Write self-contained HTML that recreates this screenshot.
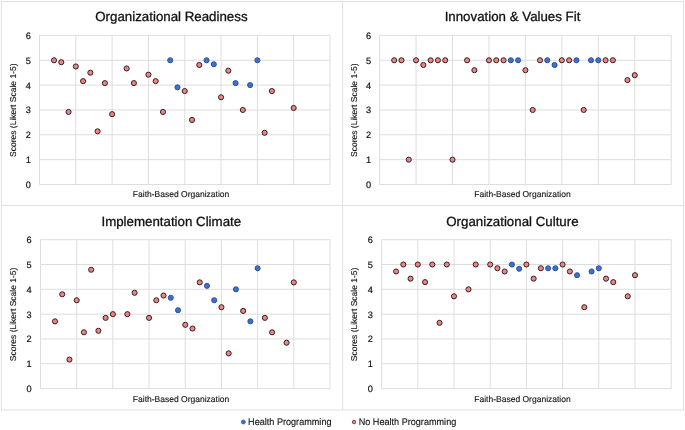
<!DOCTYPE html>
<html><head><meta charset="utf-8"><style>
html,body{margin:0;padding:0;background:#fff;}
svg{display:block;font-family:"Liberation Sans", sans-serif;will-change:transform;text-rendering:geometricPrecision;}
</style></head><body>
<svg width="685" height="430" viewBox="0 0 685 430">
<rect width="685" height="430" fill="#fff"/>
<g stroke="#e0e0e0" stroke-width="1" fill="none">
<rect x="1.5" y="1.5" width="682" height="408.5"/>
<line x1="342.5" y1="1.5" x2="342.5" y2="410"/>
<line x1="1.5" y1="205.5" x2="683.5" y2="205.5"/>
</g>
<g stroke="#d9d9d9" stroke-width="0.9"><line x1="39.50" y1="184.50" x2="330.00" y2="184.50"/><line x1="39.50" y1="159.65" x2="330.00" y2="159.65"/><line x1="39.50" y1="134.80" x2="330.00" y2="134.80"/><line x1="39.50" y1="109.95" x2="330.00" y2="109.95"/><line x1="39.50" y1="85.10" x2="330.00" y2="85.10"/><line x1="39.50" y1="60.25" x2="330.00" y2="60.25"/><line x1="39.50" y1="35.40" x2="330.00" y2="35.40"/><line x1="39.50" y1="35.40" x2="39.50" y2="184.50"/><line x1="75.81" y1="35.40" x2="75.81" y2="184.50"/><line x1="112.12" y1="35.40" x2="112.12" y2="184.50"/><line x1="148.44" y1="35.40" x2="148.44" y2="184.50"/><line x1="184.75" y1="35.40" x2="184.75" y2="184.50"/><line x1="221.06" y1="35.40" x2="221.06" y2="184.50"/><line x1="257.38" y1="35.40" x2="257.38" y2="184.50"/><line x1="293.69" y1="35.40" x2="293.69" y2="184.50"/><line x1="330.00" y1="35.40" x2="330.00" y2="184.50"/></g><g font-size="9.2" fill="#111111" stroke="#111111" stroke-width="0.2"><text transform="translate(30.90,187.95) scale(1,1.0)" text-anchor="end">0</text><text transform="translate(30.90,163.10) scale(1,1.0)" text-anchor="end">1</text><text transform="translate(30.90,138.25) scale(1,1.0)" text-anchor="end">2</text><text transform="translate(30.90,113.40) scale(1,1.0)" text-anchor="end">3</text><text transform="translate(30.90,88.55) scale(1,1.0)" text-anchor="end">4</text><text transform="translate(30.90,63.70) scale(1,1.0)" text-anchor="end">5</text><text transform="translate(30.90,38.85) scale(1,1.0)" text-anchor="end">6</text></g><circle cx="54.02" cy="60.25" r="2.55" fill="#f28284" stroke="#2c2424" stroke-width="1.0"/><circle cx="61.29" cy="62.24" r="2.55" fill="#f28284" stroke="#2c2424" stroke-width="1.0"/><circle cx="68.55" cy="111.94" r="2.55" fill="#f28284" stroke="#2c2424" stroke-width="1.0"/><circle cx="75.81" cy="66.46" r="2.55" fill="#f28284" stroke="#2c2424" stroke-width="1.0"/><circle cx="83.08" cy="81.12" r="2.55" fill="#f28284" stroke="#2c2424" stroke-width="1.0"/><circle cx="90.34" cy="72.68" r="2.55" fill="#f28284" stroke="#2c2424" stroke-width="1.0"/><circle cx="97.60" cy="131.32" r="2.55" fill="#f28284" stroke="#2c2424" stroke-width="1.0"/><circle cx="104.86" cy="83.11" r="2.55" fill="#f28284" stroke="#2c2424" stroke-width="1.0"/><circle cx="112.12" cy="114.17" r="2.55" fill="#f28284" stroke="#2c2424" stroke-width="1.0"/><circle cx="126.65" cy="68.45" r="2.55" fill="#f28284" stroke="#2c2424" stroke-width="1.0"/><circle cx="133.91" cy="83.11" r="2.55" fill="#f28284" stroke="#2c2424" stroke-width="1.0"/><circle cx="148.44" cy="74.66" r="2.55" fill="#f28284" stroke="#2c2424" stroke-width="1.0"/><circle cx="155.70" cy="81.12" r="2.55" fill="#f28284" stroke="#2c2424" stroke-width="1.0"/><circle cx="162.96" cy="111.94" r="2.55" fill="#f28284" stroke="#2c2424" stroke-width="1.0"/><circle cx="170.22" cy="60.25" r="2.55" fill="#3f70cf" stroke="#27488c" stroke-width="0.9"/><circle cx="177.49" cy="87.34" r="2.55" fill="#3f70cf" stroke="#27488c" stroke-width="0.9"/><circle cx="184.75" cy="91.06" r="2.55" fill="#f28284" stroke="#2c2424" stroke-width="1.0"/><circle cx="192.01" cy="119.89" r="2.55" fill="#f28284" stroke="#2c2424" stroke-width="1.0"/><circle cx="199.28" cy="64.97" r="2.55" fill="#f28284" stroke="#2c2424" stroke-width="1.0"/><circle cx="206.54" cy="60.25" r="2.55" fill="#3f70cf" stroke="#27488c" stroke-width="0.9"/><circle cx="213.80" cy="64.23" r="2.55" fill="#3f70cf" stroke="#27488c" stroke-width="0.9"/><circle cx="221.06" cy="97.28" r="2.55" fill="#f28284" stroke="#2c2424" stroke-width="1.0"/><circle cx="228.33" cy="70.69" r="2.55" fill="#f28284" stroke="#2c2424" stroke-width="1.0"/><circle cx="235.59" cy="83.11" r="2.55" fill="#3f70cf" stroke="#27488c" stroke-width="0.9"/><circle cx="242.85" cy="109.95" r="2.55" fill="#f28284" stroke="#2c2424" stroke-width="1.0"/><circle cx="250.11" cy="85.10" r="2.55" fill="#3f70cf" stroke="#27488c" stroke-width="0.9"/><circle cx="257.38" cy="60.25" r="2.55" fill="#3f70cf" stroke="#27488c" stroke-width="0.9"/><circle cx="264.64" cy="132.81" r="2.55" fill="#f28284" stroke="#2c2424" stroke-width="1.0"/><circle cx="271.90" cy="91.06" r="2.55" fill="#f28284" stroke="#2c2424" stroke-width="1.0"/><circle cx="293.69" cy="107.96" r="2.55" fill="#f28284" stroke="#2c2424" stroke-width="1.0"/><text transform="translate(171.40,21.40) scale(1,1.0)" text-anchor="middle" font-size="13.3" fill="#111111" stroke="#111111" stroke-width="0.3">Organizational Readiness</text><text transform="translate(16.00,110.20) rotate(-90) scale(1,1.0)" text-anchor="middle" font-size="8.5" fill="#111111" stroke="#111111" stroke-width="0.12">Scores (Likert Scale 1-5)</text><text transform="translate(181.05,197.30) scale(1,1.0)" text-anchor="middle" font-size="8.5" fill="#111111" stroke="#111111" stroke-width="0.12">Faith-Based Organization</text><g stroke="#d9d9d9" stroke-width="0.9"><line x1="379.60" y1="184.50" x2="671.20" y2="184.50"/><line x1="379.60" y1="159.65" x2="671.20" y2="159.65"/><line x1="379.60" y1="134.80" x2="671.20" y2="134.80"/><line x1="379.60" y1="109.95" x2="671.20" y2="109.95"/><line x1="379.60" y1="85.10" x2="671.20" y2="85.10"/><line x1="379.60" y1="60.25" x2="671.20" y2="60.25"/><line x1="379.60" y1="35.40" x2="671.20" y2="35.40"/><line x1="379.60" y1="35.40" x2="379.60" y2="184.50"/><line x1="416.05" y1="35.40" x2="416.05" y2="184.50"/><line x1="452.50" y1="35.40" x2="452.50" y2="184.50"/><line x1="488.95" y1="35.40" x2="488.95" y2="184.50"/><line x1="525.40" y1="35.40" x2="525.40" y2="184.50"/><line x1="561.85" y1="35.40" x2="561.85" y2="184.50"/><line x1="598.30" y1="35.40" x2="598.30" y2="184.50"/><line x1="634.75" y1="35.40" x2="634.75" y2="184.50"/><line x1="671.20" y1="35.40" x2="671.20" y2="184.50"/></g><g font-size="9.2" fill="#111111" stroke="#111111" stroke-width="0.2"><text transform="translate(371.20,187.95) scale(1,1.0)" text-anchor="end">0</text><text transform="translate(371.20,163.10) scale(1,1.0)" text-anchor="end">1</text><text transform="translate(371.20,138.25) scale(1,1.0)" text-anchor="end">2</text><text transform="translate(371.20,113.40) scale(1,1.0)" text-anchor="end">3</text><text transform="translate(371.20,88.55) scale(1,1.0)" text-anchor="end">4</text><text transform="translate(371.20,63.70) scale(1,1.0)" text-anchor="end">5</text><text transform="translate(371.20,38.85) scale(1,1.0)" text-anchor="end">6</text></g><circle cx="394.18" cy="60.25" r="2.55" fill="#f28284" stroke="#2c2424" stroke-width="1.0"/><circle cx="401.47" cy="60.25" r="2.55" fill="#f28284" stroke="#2c2424" stroke-width="1.0"/><circle cx="408.76" cy="159.65" r="2.55" fill="#f28284" stroke="#2c2424" stroke-width="1.0"/><circle cx="416.05" cy="60.25" r="2.55" fill="#f28284" stroke="#2c2424" stroke-width="1.0"/><circle cx="423.34" cy="64.97" r="2.55" fill="#f28284" stroke="#2c2424" stroke-width="1.0"/><circle cx="430.63" cy="60.25" r="2.55" fill="#f28284" stroke="#2c2424" stroke-width="1.0"/><circle cx="437.92" cy="60.25" r="2.55" fill="#f28284" stroke="#2c2424" stroke-width="1.0"/><circle cx="445.21" cy="60.25" r="2.55" fill="#f28284" stroke="#2c2424" stroke-width="1.0"/><circle cx="452.50" cy="159.65" r="2.55" fill="#f28284" stroke="#2c2424" stroke-width="1.0"/><circle cx="467.08" cy="60.25" r="2.55" fill="#f28284" stroke="#2c2424" stroke-width="1.0"/><circle cx="474.37" cy="70.19" r="2.55" fill="#f28284" stroke="#2c2424" stroke-width="1.0"/><circle cx="488.95" cy="60.25" r="2.55" fill="#f28284" stroke="#2c2424" stroke-width="1.0"/><circle cx="496.24" cy="60.25" r="2.55" fill="#f28284" stroke="#2c2424" stroke-width="1.0"/><circle cx="503.53" cy="60.25" r="2.55" fill="#f28284" stroke="#2c2424" stroke-width="1.0"/><circle cx="510.82" cy="60.25" r="2.55" fill="#3f70cf" stroke="#27488c" stroke-width="0.9"/><circle cx="518.11" cy="60.25" r="2.55" fill="#3f70cf" stroke="#27488c" stroke-width="0.9"/><circle cx="525.40" cy="70.19" r="2.55" fill="#f28284" stroke="#2c2424" stroke-width="1.0"/><circle cx="532.69" cy="109.95" r="2.55" fill="#f28284" stroke="#2c2424" stroke-width="1.0"/><circle cx="539.98" cy="60.25" r="2.55" fill="#f28284" stroke="#2c2424" stroke-width="1.0"/><circle cx="547.27" cy="60.25" r="2.55" fill="#3f70cf" stroke="#27488c" stroke-width="0.9"/><circle cx="554.56" cy="64.97" r="2.55" fill="#3f70cf" stroke="#27488c" stroke-width="0.9"/><circle cx="561.85" cy="60.25" r="2.55" fill="#f28284" stroke="#2c2424" stroke-width="1.0"/><circle cx="569.14" cy="60.25" r="2.55" fill="#f28284" stroke="#2c2424" stroke-width="1.0"/><circle cx="576.43" cy="60.25" r="2.55" fill="#3f70cf" stroke="#27488c" stroke-width="0.9"/><circle cx="583.72" cy="109.95" r="2.55" fill="#f28284" stroke="#2c2424" stroke-width="1.0"/><circle cx="591.01" cy="60.25" r="2.55" fill="#3f70cf" stroke="#27488c" stroke-width="0.9"/><circle cx="598.30" cy="60.25" r="2.55" fill="#3f70cf" stroke="#27488c" stroke-width="0.9"/><circle cx="605.59" cy="60.25" r="2.55" fill="#f28284" stroke="#2c2424" stroke-width="1.0"/><circle cx="612.88" cy="60.25" r="2.55" fill="#f28284" stroke="#2c2424" stroke-width="1.0"/><circle cx="627.46" cy="80.13" r="2.55" fill="#f28284" stroke="#2c2424" stroke-width="1.0"/><circle cx="634.75" cy="75.16" r="2.55" fill="#f28284" stroke="#2c2424" stroke-width="1.0"/><text transform="translate(512.50,21.40) scale(1,1.0)" text-anchor="middle" font-size="13.3" fill="#111111" stroke="#111111" stroke-width="0.3">Innovation &amp; Values Fit</text><text transform="translate(357.20,110.20) rotate(-90) scale(1,1.0)" text-anchor="middle" font-size="8.5" fill="#111111" stroke="#111111" stroke-width="0.12">Scores (Likert Scale 1-5)</text><text transform="translate(522.50,197.30) scale(1,1.0)" text-anchor="middle" font-size="8.5" fill="#111111" stroke="#111111" stroke-width="0.12">Faith-Based Organization</text><g stroke="#d9d9d9" stroke-width="0.9"><line x1="40.50" y1="388.60" x2="330.00" y2="388.60"/><line x1="40.50" y1="363.78" x2="330.00" y2="363.78"/><line x1="40.50" y1="338.97" x2="330.00" y2="338.97"/><line x1="40.50" y1="314.15" x2="330.00" y2="314.15"/><line x1="40.50" y1="289.33" x2="330.00" y2="289.33"/><line x1="40.50" y1="264.52" x2="330.00" y2="264.52"/><line x1="40.50" y1="239.70" x2="330.00" y2="239.70"/><line x1="40.50" y1="239.70" x2="40.50" y2="388.60"/><line x1="76.69" y1="239.70" x2="76.69" y2="388.60"/><line x1="112.88" y1="239.70" x2="112.88" y2="388.60"/><line x1="149.06" y1="239.70" x2="149.06" y2="388.60"/><line x1="185.25" y1="239.70" x2="185.25" y2="388.60"/><line x1="221.44" y1="239.70" x2="221.44" y2="388.60"/><line x1="257.62" y1="239.70" x2="257.62" y2="388.60"/><line x1="293.81" y1="239.70" x2="293.81" y2="388.60"/><line x1="330.00" y1="239.70" x2="330.00" y2="388.60"/></g><g font-size="9.2" fill="#111111" stroke="#111111" stroke-width="0.2"><text transform="translate(31.50,392.05) scale(1,1.0)" text-anchor="end">0</text><text transform="translate(31.50,367.23) scale(1,1.0)" text-anchor="end">1</text><text transform="translate(31.50,342.42) scale(1,1.0)" text-anchor="end">2</text><text transform="translate(31.50,317.60) scale(1,1.0)" text-anchor="end">3</text><text transform="translate(31.50,292.78) scale(1,1.0)" text-anchor="end">4</text><text transform="translate(31.50,267.97) scale(1,1.0)" text-anchor="end">5</text><text transform="translate(31.50,243.15) scale(1,1.0)" text-anchor="end">6</text></g><circle cx="54.98" cy="321.35" r="2.55" fill="#f28284" stroke="#2c2424" stroke-width="1.0"/><circle cx="62.21" cy="294.30" r="2.55" fill="#f28284" stroke="#2c2424" stroke-width="1.0"/><circle cx="69.45" cy="359.56" r="2.55" fill="#f28284" stroke="#2c2424" stroke-width="1.0"/><circle cx="76.69" cy="300.25" r="2.55" fill="#f28284" stroke="#2c2424" stroke-width="1.0"/><circle cx="83.92" cy="332.27" r="2.55" fill="#f28284" stroke="#2c2424" stroke-width="1.0"/><circle cx="91.16" cy="269.73" r="2.55" fill="#f28284" stroke="#2c2424" stroke-width="1.0"/><circle cx="98.40" cy="330.78" r="2.55" fill="#f28284" stroke="#2c2424" stroke-width="1.0"/><circle cx="105.64" cy="317.87" r="2.55" fill="#f28284" stroke="#2c2424" stroke-width="1.0"/><circle cx="112.88" cy="314.15" r="2.55" fill="#f28284" stroke="#2c2424" stroke-width="1.0"/><circle cx="127.35" cy="314.15" r="2.55" fill="#f28284" stroke="#2c2424" stroke-width="1.0"/><circle cx="134.59" cy="292.81" r="2.55" fill="#f28284" stroke="#2c2424" stroke-width="1.0"/><circle cx="149.06" cy="317.87" r="2.55" fill="#f28284" stroke="#2c2424" stroke-width="1.0"/><circle cx="156.30" cy="300.25" r="2.55" fill="#f28284" stroke="#2c2424" stroke-width="1.0"/><circle cx="163.54" cy="295.54" r="2.55" fill="#f28284" stroke="#2c2424" stroke-width="1.0"/><circle cx="170.78" cy="297.77" r="2.55" fill="#3f70cf" stroke="#27488c" stroke-width="0.9"/><circle cx="178.01" cy="310.18" r="2.55" fill="#3f70cf" stroke="#27488c" stroke-width="0.9"/><circle cx="185.25" cy="324.82" r="2.55" fill="#f28284" stroke="#2c2424" stroke-width="1.0"/><circle cx="192.49" cy="328.54" r="2.55" fill="#f28284" stroke="#2c2424" stroke-width="1.0"/><circle cx="199.72" cy="282.38" r="2.55" fill="#f28284" stroke="#2c2424" stroke-width="1.0"/><circle cx="206.96" cy="285.86" r="2.55" fill="#3f70cf" stroke="#27488c" stroke-width="0.9"/><circle cx="214.20" cy="300.25" r="2.55" fill="#3f70cf" stroke="#27488c" stroke-width="0.9"/><circle cx="221.44" cy="307.20" r="2.55" fill="#f28284" stroke="#2c2424" stroke-width="1.0"/><circle cx="228.67" cy="353.36" r="2.55" fill="#f28284" stroke="#2c2424" stroke-width="1.0"/><circle cx="235.91" cy="289.33" r="2.55" fill="#3f70cf" stroke="#27488c" stroke-width="0.9"/><circle cx="243.15" cy="310.92" r="2.55" fill="#f28284" stroke="#2c2424" stroke-width="1.0"/><circle cx="250.39" cy="321.35" r="2.55" fill="#3f70cf" stroke="#27488c" stroke-width="0.9"/><circle cx="257.62" cy="268.24" r="2.55" fill="#3f70cf" stroke="#27488c" stroke-width="0.9"/><circle cx="264.86" cy="317.87" r="2.55" fill="#f28284" stroke="#2c2424" stroke-width="1.0"/><circle cx="272.10" cy="332.27" r="2.55" fill="#f28284" stroke="#2c2424" stroke-width="1.0"/><circle cx="286.57" cy="342.69" r="2.55" fill="#f28284" stroke="#2c2424" stroke-width="1.0"/><circle cx="293.81" cy="282.38" r="2.55" fill="#f28284" stroke="#2c2424" stroke-width="1.0"/><text transform="translate(171.30,226.00) scale(1,1.0)" text-anchor="middle" font-size="13.3" fill="#111111" stroke="#111111" stroke-width="0.3">Implementation Climate</text><text transform="translate(16.10,314.40) rotate(-90) scale(1,1.0)" text-anchor="middle" font-size="8.5" fill="#111111" stroke="#111111" stroke-width="0.12">Scores (Likert Scale 1-5)</text><text transform="translate(181.05,401.70) scale(1,1.0)" text-anchor="middle" font-size="8.5" fill="#111111" stroke="#111111" stroke-width="0.12">Faith-Based Organization</text><g stroke="#d9d9d9" stroke-width="0.9"><line x1="381.60" y1="388.60" x2="671.20" y2="388.60"/><line x1="381.60" y1="363.78" x2="671.20" y2="363.78"/><line x1="381.60" y1="338.97" x2="671.20" y2="338.97"/><line x1="381.60" y1="314.15" x2="671.20" y2="314.15"/><line x1="381.60" y1="289.33" x2="671.20" y2="289.33"/><line x1="381.60" y1="264.52" x2="671.20" y2="264.52"/><line x1="381.60" y1="239.70" x2="671.20" y2="239.70"/><line x1="381.60" y1="239.70" x2="381.60" y2="388.60"/><line x1="417.80" y1="239.70" x2="417.80" y2="388.60"/><line x1="454.00" y1="239.70" x2="454.00" y2="388.60"/><line x1="490.20" y1="239.70" x2="490.20" y2="388.60"/><line x1="526.40" y1="239.70" x2="526.40" y2="388.60"/><line x1="562.60" y1="239.70" x2="562.60" y2="388.60"/><line x1="598.80" y1="239.70" x2="598.80" y2="388.60"/><line x1="635.00" y1="239.70" x2="635.00" y2="388.60"/><line x1="671.20" y1="239.70" x2="671.20" y2="388.60"/></g><g font-size="9.2" fill="#111111" stroke="#111111" stroke-width="0.2"><text transform="translate(372.90,392.05) scale(1,1.0)" text-anchor="end">0</text><text transform="translate(372.90,367.23) scale(1,1.0)" text-anchor="end">1</text><text transform="translate(372.90,342.42) scale(1,1.0)" text-anchor="end">2</text><text transform="translate(372.90,317.60) scale(1,1.0)" text-anchor="end">3</text><text transform="translate(372.90,292.78) scale(1,1.0)" text-anchor="end">4</text><text transform="translate(372.90,267.97) scale(1,1.0)" text-anchor="end">5</text><text transform="translate(372.90,243.15) scale(1,1.0)" text-anchor="end">6</text></g><circle cx="396.08" cy="271.47" r="2.55" fill="#f28284" stroke="#2c2424" stroke-width="1.0"/><circle cx="403.32" cy="264.52" r="2.55" fill="#f28284" stroke="#2c2424" stroke-width="1.0"/><circle cx="410.56" cy="278.66" r="2.55" fill="#f28284" stroke="#2c2424" stroke-width="1.0"/><circle cx="417.80" cy="264.52" r="2.55" fill="#f28284" stroke="#2c2424" stroke-width="1.0"/><circle cx="425.04" cy="282.14" r="2.55" fill="#f28284" stroke="#2c2424" stroke-width="1.0"/><circle cx="432.28" cy="264.52" r="2.55" fill="#f28284" stroke="#2c2424" stroke-width="1.0"/><circle cx="439.52" cy="322.84" r="2.55" fill="#f28284" stroke="#2c2424" stroke-width="1.0"/><circle cx="446.76" cy="264.52" r="2.55" fill="#f28284" stroke="#2c2424" stroke-width="1.0"/><circle cx="454.00" cy="296.28" r="2.55" fill="#f28284" stroke="#2c2424" stroke-width="1.0"/><circle cx="468.48" cy="289.33" r="2.55" fill="#f28284" stroke="#2c2424" stroke-width="1.0"/><circle cx="475.72" cy="264.52" r="2.55" fill="#f28284" stroke="#2c2424" stroke-width="1.0"/><circle cx="490.20" cy="264.52" r="2.55" fill="#f28284" stroke="#2c2424" stroke-width="1.0"/><circle cx="497.44" cy="268.24" r="2.55" fill="#f28284" stroke="#2c2424" stroke-width="1.0"/><circle cx="504.68" cy="271.47" r="2.55" fill="#f28284" stroke="#2c2424" stroke-width="1.0"/><circle cx="511.92" cy="264.52" r="2.55" fill="#3f70cf" stroke="#27488c" stroke-width="0.9"/><circle cx="519.16" cy="268.74" r="2.55" fill="#3f70cf" stroke="#27488c" stroke-width="0.9"/><circle cx="526.40" cy="264.52" r="2.55" fill="#f28284" stroke="#2c2424" stroke-width="1.0"/><circle cx="533.64" cy="278.66" r="2.55" fill="#f28284" stroke="#2c2424" stroke-width="1.0"/><circle cx="540.88" cy="268.24" r="2.55" fill="#f28284" stroke="#2c2424" stroke-width="1.0"/><circle cx="548.12" cy="268.24" r="2.55" fill="#3f70cf" stroke="#27488c" stroke-width="0.9"/><circle cx="555.36" cy="268.24" r="2.55" fill="#3f70cf" stroke="#27488c" stroke-width="0.9"/><circle cx="562.60" cy="264.52" r="2.55" fill="#f28284" stroke="#2c2424" stroke-width="1.0"/><circle cx="569.84" cy="271.47" r="2.55" fill="#f28284" stroke="#2c2424" stroke-width="1.0"/><circle cx="577.08" cy="275.19" r="2.55" fill="#3f70cf" stroke="#27488c" stroke-width="0.9"/><circle cx="584.32" cy="307.20" r="2.55" fill="#f28284" stroke="#2c2424" stroke-width="1.0"/><circle cx="591.56" cy="271.47" r="2.55" fill="#3f70cf" stroke="#27488c" stroke-width="0.9"/><circle cx="598.80" cy="268.24" r="2.55" fill="#3f70cf" stroke="#27488c" stroke-width="0.9"/><circle cx="606.04" cy="278.66" r="2.55" fill="#f28284" stroke="#2c2424" stroke-width="1.0"/><circle cx="613.28" cy="282.14" r="2.55" fill="#f28284" stroke="#2c2424" stroke-width="1.0"/><circle cx="627.76" cy="296.28" r="2.55" fill="#f28284" stroke="#2c2424" stroke-width="1.0"/><circle cx="635.00" cy="275.19" r="2.55" fill="#f28284" stroke="#2c2424" stroke-width="1.0"/><text transform="translate(512.40,226.00) scale(1,1.0)" text-anchor="middle" font-size="13.3" fill="#111111" stroke="#111111" stroke-width="0.3">Organizational Culture</text><text transform="translate(357.30,314.40) rotate(-90) scale(1,1.0)" text-anchor="middle" font-size="8.5" fill="#111111" stroke="#111111" stroke-width="0.12">Scores (Likert Scale 1-5)</text><text transform="translate(522.50,401.70) scale(1,1.0)" text-anchor="middle" font-size="8.5" fill="#111111" stroke="#111111" stroke-width="0.12">Faith-Based Organization</text>
<circle cx="243.35" cy="422.0" r="2.1" fill="#3f70cf" stroke="#27488c" stroke-width="0.5"/>
<circle cx="354.05" cy="422.05" r="1.75" fill="#f28284" stroke="#5b2a2a" stroke-width="0.8"/>
<g font-size="9.1" fill="#111111" stroke="#111111" stroke-width="0.12">
<text transform="translate(248.1,425.1) scale(1,1.06)">Health Programming</text>
<text transform="translate(358.7,425.1) scale(1,1.06)">No Health Programming</text>
</g>
</svg>
</body></html>
